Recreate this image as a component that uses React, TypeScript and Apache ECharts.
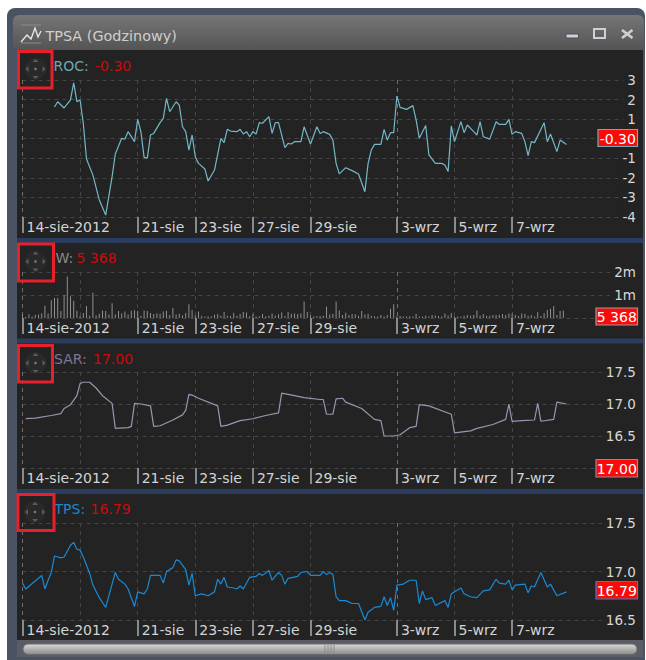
import React, { useEffect, useRef } from "react";
import * as echarts from "echarts";

const BARS_AXIS_END = 192;
const gridDays = [0, 18, 36, 54, 72, 90, 117, 135, 153];
const dateLabelIdx = [0, 36, 54, 72, 90, 117, 135, 153];
const dateLabels = ["14-sie-2012", "21-sie", "23-sie", "27-sie", "29-sie", "3-wrz", "5-wrz", "7-wrz"];
const gridColors = ["#6e6e6e", "#454545", "#454545", "#454545", "#454545", "#454545", "#6e6e6e", "#454545", "#454545"];

const roc = [[10,1.62],[11,1.89],[13,1.57],[15,1.98],[16,2.86],[17,1.89],[18,1.98],[19,0.79],[20,-1.04],[22,-1.86],[24,-3.13],[26,-3.9],[28,-1.94],[29,-0.78],[31,0.02],[32,-0.02],[33,0.36],[35,-0.15],[36,0.99],[37,0.36],[38,-0.95],[39,-0.99],[40,0.19],[41,0.27],[43,0.82],[44,1.04],[45,2.06],[46,1.38],[48,1.89],[49,1.72],[50,0.61],[51,0.36],[52,-0.58],[53,0.19],[54,-0.92],[55,-1.26],[57,-1.55],[58,-2.16],[60,-1.6],[62,0.02],[63,-0.2],[64,0.48],[65,0.39],[67,0.36],[68,0.48],[69,0.24],[70,0.36],[71,0.1],[72,0.36],[73,0.24],[74,0.82],[75,0.79],[77,1.13],[78,0.27],[79,0.82],[80,0.82],[82,-0.46],[83,-0.24],[84,-0.27],[85,-0.15],[87,-0.15],[88,0.61],[90,-0.27],[92,0.61],[93,0.27],[94,0.36],[96,0.22],[97,-0.07],[98,-1.26],[99,-1.8],[101,-1.48],[103,-1.63],[105,-1.8],[107,-2.71],[108,-1.26],[109,-0.58],[110,-0.29],[112,-0.29],[113,0.48],[114,-0.07],[115,0.31],[116,0.31],[117,2.18],[118,1.6],[120,1.5],[122,1.69],[123,0.96],[124,0.02],[126,0.67],[127,-0.83],[129,-1.26],[131,-1.26],[132,-1.34],[133,-1.68],[134,0.65],[135,-0.15],[137,0.87],[138,0.31],[139,0.7],[141,0.36],[142,0.19],[143,0.87],[144,0.1],[146,-0.02],[148,0.87],[149,0.73],[151,0.73],[152,0.99],[153,0.22],[154,0.36],[156,0.27],[157,-0.15],[158,-0.87],[159,-0.15],[160,-0.2],[163,0.82],[164,-0.15],[165,0.24],[167,-0.66],[168,-0.07],[170,-0.3]];

const volumeK = [150,40,160,60,140,150,200,530,200,770,870,870,300,1000,1800,950,750,320,100,220,520,100,1100,120,180,330,300,150,640,150,300,200,280,150,320,340,300,100,330,300,220,170,200,180,280,320,130,430,150,190,120,220,600,350,120,280,100,60,80,60,140,170,100,260,100,90,230,100,170,260,240,80,190,60,80,170,60,100,200,110,160,240,90,260,190,200,170,200,720,260,120,60,80,90,100,500,150,180,720,330,130,230,130,170,160,100,300,150,190,100,80,60,130,60,130,400,600,80,90,60,60,80,60,190,70,60,100,70,130,110,90,60,200,110,220,70,60,60,100,130,100,130,330,110,170,100,100,130,130,140,170,130,200,200,130,90,200,190,100,130,60,250,90,220,350,400,520,130,300,330,5.368];

const sar = [[1,16.77],[4,16.78],[9,16.82],[12,16.85],[13,16.93],[15,16.99],[17,17.13],[18,17.32],[19,17.34],[21,17.34],[23,17.25],[25,17.13],[28,17.01],[29,16.62],[33,16.63],[34,16.65],[35,17.01],[37,17.0],[40,16.97],[41,16.65],[43,16.66],[47,16.75],[50,16.83],[51,16.9],[52,17.15],[53,17.14],[55,17.09],[61,16.97],[62,16.65],[64,16.67],[68,16.74],[72,16.77],[76,16.82],[80,16.86],[81,17.17],[85,17.13],[88,17.1],[93,17.07],[94,17.07],[95,16.84],[97,16.84],[98,17.08],[100,17.09],[101,17.03],[106,16.93],[110,16.76],[112,16.74],[113,16.5],[116,16.5],[118,16.52],[121,16.63],[123,16.65],[124,16.99],[127,16.97],[134,16.84],[135,16.55],[140,16.58],[142,16.62],[147,16.68],[151,16.76],[152,17.0],[153,16.73],[156,16.74],[160,16.75],[161,17.01],[162,16.73],[166,16.76],[167,17.03],[170,17.0]];

const tps = [[0,16.88],[1,16.82],[5,16.93],[6,16.96],[7,16.82],[8,16.91],[9,16.99],[10,17.16],[12,17.14],[13,17.15],[15,17.27],[16,17.3],[17,17.23],[18,17.22],[19,17.15],[21,16.98],[22,16.86],[24,16.73],[25,16.68],[26,16.63],[28,16.87],[29,16.99],[30,16.92],[32,16.87],[33,16.82],[34,16.73],[35,16.64],[36,16.79],[38,16.77],[39,16.82],[40,16.96],[43,16.96],[44,16.88],[45,17.0],[47,17.04],[48,17.12],[49,17.11],[51,17.02],[52,16.86],[53,16.98],[54,16.75],[56,16.77],[58,16.75],[60,16.79],[61,16.92],[62,16.87],[63,16.94],[64,16.84],[66,16.83],[67,16.82],[68,16.85],[69,16.82],[71,16.94],[73,16.95],[74,16.98],[75,16.96],[77,17.01],[78,16.91],[80,16.99],[81,16.96],[82,16.87],[83,16.93],[86,16.95],[87,16.99],[89,17.0],[90,16.96],[93,16.96],[94,17.0],[95,16.97],[96,16.99],[97,16.97],[98,16.74],[99,16.7],[101,16.7],[103,16.67],[105,16.67],[107,16.5],[108,16.58],[110,16.63],[112,16.64],[113,16.74],[114,16.65],[115,16.73],[116,16.6],[117,16.86],[119,16.87],[121,16.91],[123,16.91],[124,16.67],[125,16.8],[126,16.71],[128,16.73],[129,16.65],[132,16.7],[133,16.63],[134,16.77],[137,16.83],[138,16.77],[140,16.74],[142,16.73],[144,16.8],[146,16.81],[148,16.92],[149,16.88],[151,16.87],[152,16.91],[153,16.81],[154,16.86],[157,16.87],[158,16.78],[159,16.85],[160,16.84],[162,16.99],[164,16.84],[165,16.87],[167,16.75],[170,16.79]];

const categories = Array.from({ length: BARS_AXIS_END + 1 }, (_, i) => {
  const k = dateLabelIdx.indexOf(i);
  return k >= 0 ? dateLabels[k] : String(i);
});

const FONT = "DejaVu Sans";
const PANEL_BG = "#232323";
const frames = [
  { top: 80, bottom: 217 },
  { top: 272, bottom: 318 },
  { top: 372, bottom: 468 },
  { top: 523, bottom: 620 },
];
const headers = [
  { name: "ROC:", value: "-0.30", nx: 53.5, vx: 95, y: 66, color: "#6ea6b4" },
  { name: "W:", value: "5 368", nx: 55.5, vx: 76.5, y: 258, color: "#8a8a8a" },
  { name: "SAR:", value: "17.00", nx: 54, vx: 93, y: 359, color: "#7f7696" },
  { name: "TPS:", value: "16.79", nx: 54.5, vx: 90.5, y: 509, color: "#1f85cc" },
];
const flags = [
  { text: "-0.30", x: 598, y: 129.5, w: 39.5, h: 17, border: "#7aa9b5" },
  { text: "5 368", x: 596, y: 308, w: 41.5, h: 17, border: "#9a9a9a" },
  { text: "17.00", x: 596, y: 459.5, w: 41.5, h: 17.5, border: "#8f8a9c" },
  { text: "16.79", x: 596, y: 581.5, w: 41.5, h: 17.5, border: "#2a86c8" },
];
const redBoxes = [
  { x: 18.5, y: 51.5, w: 33.5, h: 36.5 },
  { x: 18.5, y: 244, w: 35, h: 37 },
  { x: 18.5, y: 345.5, w: 34, h: 36.5 },
  { x: 18, y: 494.5, w: 36, h: 36 },
];

function moveIcon(cx: number, cy: number) {
  const c = "#5c5c5c";
  const z = 40;
  return [
    { type: "circle", z, shape: { cx, cy, r: 10 }, style: { fill: "#292929", stroke: "#2f2f2f" } },
    { type: "circle", z, shape: { cx, cy, r: 1.3 }, style: { fill: "#7a7a7a" } },
    { type: "polygon", z, shape: { points: [[cx - 3, cy - 7], [cx + 3, cy - 7], [cx, cy - 10]] }, style: { fill: c } },
    { type: "polygon", z, shape: { points: [[cx - 3, cy + 7], [cx + 3, cy + 7], [cx, cy + 10]] }, style: { fill: c } },
    { type: "polygon", z, shape: { points: [[cx - 7, cy - 3], [cx - 7, cy + 3], [cx - 10, cy]] }, style: { fill: c } },
    { type: "polygon", z, shape: { points: [[cx + 7, cy - 3], [cx + 7, cy + 3], [cx + 10, cy]] }, style: { fill: c } },
  ];
}

function chrome() {
  const bg = -5;
  const grad = (a: string, b: string, c?: string) => ({
    type: "linear", x: 0, y: 0, x2: 0, y2: 1,
    colorStops: c
      ? [{ offset: 0, color: a }, { offset: 0.5, color: b }, { offset: 1, color: c }]
      : [{ offset: 0, color: a }, { offset: 1, color: b }],
  });
  const els: any[] = [
    { type: "rect", z: bg, shape: { x: 7, y: 8, width: 638, height: 652, r: [8, 8, 0, 0] }, style: { fill: "#4a5361" } },
    { type: "rect", z: bg, shape: { x: 13, y: 15, width: 631, height: 35, r: [6, 6, 0, 0] }, style: { fill: grad("#767676", "#545454") } },
    { type: "rect", z: bg, shape: { x: 17, y: 50, width: 626, height: 590 }, style: { fill: PANEL_BG } },
    { type: "rect", z: bg, shape: { x: 17, y: 238, width: 626, height: 5 }, style: { fill: "#2b3d5e" } },
    { type: "rect", z: bg, shape: { x: 17, y: 338.5, width: 626, height: 5 }, style: { fill: "#2b3d5e" } },
    { type: "rect", z: bg, shape: { x: 17, y: 489, width: 626, height: 5 }, style: { fill: "#2b3d5e" } },
    { type: "rect", z: bg, shape: { x: 17, y: 640, width: 626, height: 17 }, style: { fill: "#5a5d63" } },
    { type: "rect", z: bg, shape: { x: 23, y: 644, width: 614, height: 10.5, r: 5 }, style: { fill: grad("#dcdcdc", "#b0b0b0", "#8a8a8a"), stroke: "#6a6a6a" } },
    ...[325, 328, 331, 334].map((x) => ({ type: "line", z: bg, shape: { x1: x, y1: 645, x2: x, y2: 654 }, style: { stroke: "#8a8a8a" } })),
    { type: "polyline", z: bg, shape: { points: [[21, 42], [27, 35], [31, 39], [35, 28], [38, 37], [41, 31]] }, style: { stroke: "#e8e8e8", lineWidth: 1.3, fill: "none" } },
    { type: "line", z: bg, shape: { x1: 21, y1: 25, x2: 41, y2: 25 }, style: { stroke: "#8c8c8c" } },
    { type: "line", z: bg, shape: { x1: 21, y1: 43, x2: 41, y2: 43 }, style: { stroke: "#8c8c8c" } },
    { type: "text", z: 40, x: 45.5, y: 36, style: { text: "TPSA (Godzinowy)", fill: "#cfcfcf", font: `14.4px "${FONT}"`, verticalAlign: "middle" } },
    { type: "rect", z: 40, shape: { x: 566, y: 34, width: 12.5, height: 4 }, style: { fill: "#cdd0d6", stroke: "#4a4f5a" } },
    { type: "rect", z: 40, shape: { x: 594, y: 29, width: 11, height: 9 }, style: { fill: "none", stroke: "#cdd0d6", lineWidth: 2 } },
    { type: "line", z: 40, shape: { x1: 622, y1: 30, x2: 632.5, y2: 38 }, style: { stroke: "#cdd0d6", lineWidth: 2.6 } },
    { type: "line", z: 40, shape: { x1: 632.5, y1: 30, x2: 622, y2: 38 }, style: { stroke: "#cdd0d6", lineWidth: 2.6 } },
  ];
  headers.forEach((h) => {
    els.push({ type: "text", z: 40, x: h.nx, y: h.y, style: { text: h.name, fill: h.color, font: `14px "${FONT}"`, verticalAlign: "middle" } });
    els.push({ type: "text", z: 40, x: h.vx, y: h.y, style: { text: h.value, fill: "#cc0a0a", font: `14px "${FONT}"`, verticalAlign: "middle" } });
  });
  redBoxes.forEach((b) => {
    els.push(...moveIcon(b.x + 17, b.y + 17.5));
    els.push({ type: "rect", z: 45, shape: { x: b.x, y: b.y, width: b.w, height: b.h }, style: { fill: "none", stroke: "#e8202a", lineWidth: 3 } });
  });
  flags.forEach((f) => {
    els.push({ type: "rect", z: 50, shape: { x: f.x, y: f.y, width: f.w, height: f.h }, style: { fill: "#fb0a0a", stroke: f.border, lineWidth: 1.2 } });
    els.push({ type: "text", z: 51, x: f.x + f.w / 2, y: f.y + f.h / 2 + 0.5, style: { text: f.text, fill: "#ffffff", font: `14px "${FONT}"`, align: "center", verticalAlign: "middle" } });
  });
  return els;
}

const xAxisFor = (gridIndex: number) => ({
  type: "category",
  gridIndex,
  data: categories,
  boundaryGap: false,
  axisLine: { show: false, onZero: false },
  axisTick: {
    show: true,
    length: 16,
    interval: (i: number) => dateLabelIdx.includes(i),
    lineStyle: { color: "#8a8a8a", width: 2 },
  },
  axisLabel: {
    show: true,
    interval: (i: number) => dateLabelIdx.includes(i),
    color: "#d4d4d4",
    fontFamily: FONT,
    fontSize: 14,
    align: "left",
    margin: 3,
    padding: [0, 0, 0, 4],
  },
  splitLine: {
    show: true,
    interval: (i: number) => gridDays.includes(i),
    lineStyle: { color: gridColors, type: [4, 4], width: 1 },
  },
});

const yAxisFor = (gridIndex: number, min: number, max: number, interval: number, formatter: (v: number) => string) => ({
  type: "value",
  gridIndex,
  position: "right",
  min,
  max,
  interval,
  axisLine: { show: false },
  axisTick: { show: false },
  axisLabel: {
    inside: true,
    margin: 1,
    formatter,
    color: "#d8d8d8",
    fontFamily: FONT,
    fontSize: 13.5,
    backgroundColor: PANEL_BG,
    padding: [0, 0, 0, 4],
  },
  splitLine: { show: true, lineStyle: { color: "#454545", type: [4, 4], width: 1 } },
});

const lineSeries = (i: number, data: number[][], color: string) => ({
  type: "line",
  xAxisIndex: i,
  yAxisIndex: i,
  data,
  showSymbol: false,
  symbol: "none",
  smooth: false,
  lineStyle: { color, width: 1.2 },
});

export default function App() {
  const ref = useRef<HTMLDivElement>(null);
  useEffect(() => {
    if (!ref.current) return;
    const chart = echarts.init(ref.current, undefined, { renderer: "svg", width: 646, height: 660 });
    chart.setOption({
      animation: false,
      backgroundColor: "#ffffff",
      grid: frames.map((f) => ({ left: 22.5, width: 614.4, top: f.top, height: f.bottom - f.top, containLabel: false })),
      xAxis: [0, 1, 2, 3].map(xAxisFor),
      yAxis: [
        yAxisFor(0, -4, 3, 1, (v) => (v === 0 ? "" : String(v))),
        yAxisFor(1, 0, 2000, 1000, (v) => (v === 0 ? "" : `${v / 1000}m`)),
        yAxisFor(2, 16, 17.5, 0.5, (v) => (v === 16 ? "" : v.toFixed(1))),
        yAxisFor(3, 16.5, 17.5, 0.5, (v) => v.toFixed(1)),
      ],
      series: [
        lineSeries(0, roc, "#74b8c6"),
        { type: "bar", xAxisIndex: 1, yAxisIndex: 1, data: volumeK, barWidth: 1, itemStyle: { color: "#8e8e8e" } },
        lineSeries(2, sar, "#9e93b0"),
        lineSeries(3, tps, "#1a8ad6"),
      ],
      graphic: { elements: chrome() },
    });
    return () => chart.dispose();
  }, []);
  return <div ref={ref} style={{ position: "absolute", left: 0, top: 0, width: 646, height: 660 }} />;
}
